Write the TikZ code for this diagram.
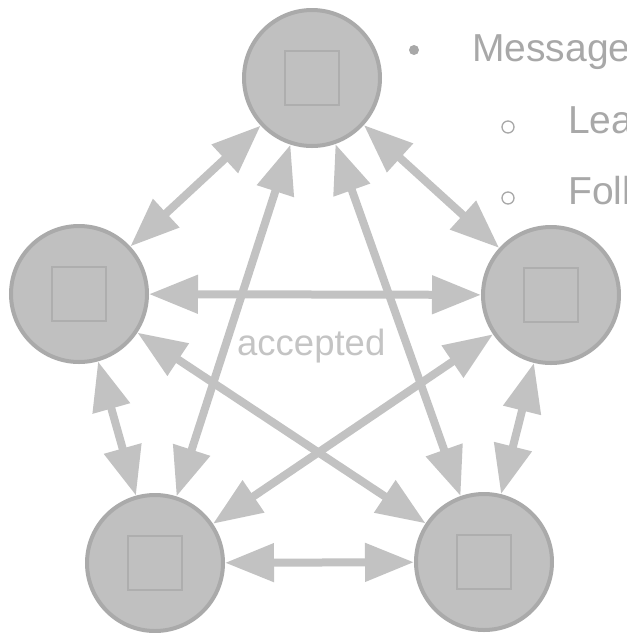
\documentclass[tikz,border=0pt]{standalone}
\usepackage{fontspec}
\setmainfont{Liberation Sans}
\usetikzlibrary{arrows.meta}

\definecolor{nodefill}{HTML}{C0C0C0}
\definecolor{nodeline}{HTML}{AAAAAA}
\definecolor{boxline}{HTML}{AEAEAE}
\definecolor{linkgray}{HTML}{C2C2C2}
\definecolor{textgray}{HTML}{A8A8A8}
\definecolor{labelgray}{HTML}{C4C4C4}

\tikzset{
  server/.style={circle, draw=nodeline, fill=nodefill, line width=4pt,
    minimum size=136pt, inner sep=0pt, outer sep=2pt},
  innerbox/.style={draw=boxline, line width=2pt},
  link/.style={draw=linkgray, line width=8pt,
    {Triangle[length=49pt,width=37pt]}-{Triangle[length=49pt,width=37pt]}},
  bulletfont/.style={font=\fontsize{39}{44}\selectfont, text=textgray,
    anchor=base west, inner sep=0pt}
}

\begin{document}
\begin{tikzpicture}[x=1pt, y=-1pt]
  \useasboundingbox (0,0) rectangle (627,633);
  \clip (0,0) rectangle (627,633);

  % five servers
  \node[server] (top) at (312,78) {};
  \node[server] (lft) at (79,294) {};
  \node[server] (rgt) at (551,295) {};
  \node[server] (bl)  at (155,563) {};
  \node[server] (br)  at (484,562) {};

  \foreach \n in {top,lft,rgt,bl,br}
    \draw[innerbox] (\n.center) ++(-27,-27) rectangle ++(54,54);

  % every pair is connected both ways
  \path[link] (top) -- (lft);
  \path[link] (top) -- (rgt);
  \path[link] (top) -- (bl);
  \path[link] (top) -- (br);
  \path[link] (lft) -- (rgt);
  \path[link] (lft) -- (bl);
  \path[link] (lft) -- (br);
  \path[link] (rgt) -- (bl);
  \path[link] (rgt) -- (br);
  \path[link] (bl) -- (br);

  \node[font=\fontsize{36.5}{40}\selectfont, text=labelgray, anchor=base west,
    inner sep=0pt] (acc) at (237,355) {accepted};

  % bullet list
  \fill[textgray] (414,50) circle (5pt);
  \node[bulletfont] (msg) at (472,61) {Message};
  \draw[textgray, line width=1.3pt] (508,127) circle (6pt);
  \node[bulletfont] (lea) at (568,133) {Lea};
  \draw[textgray, line width=1.3pt] (508,198) circle (6pt);
  \node[bulletfont] (fol) at (568,204) {Foll};
\end{tikzpicture}
\end{document}
